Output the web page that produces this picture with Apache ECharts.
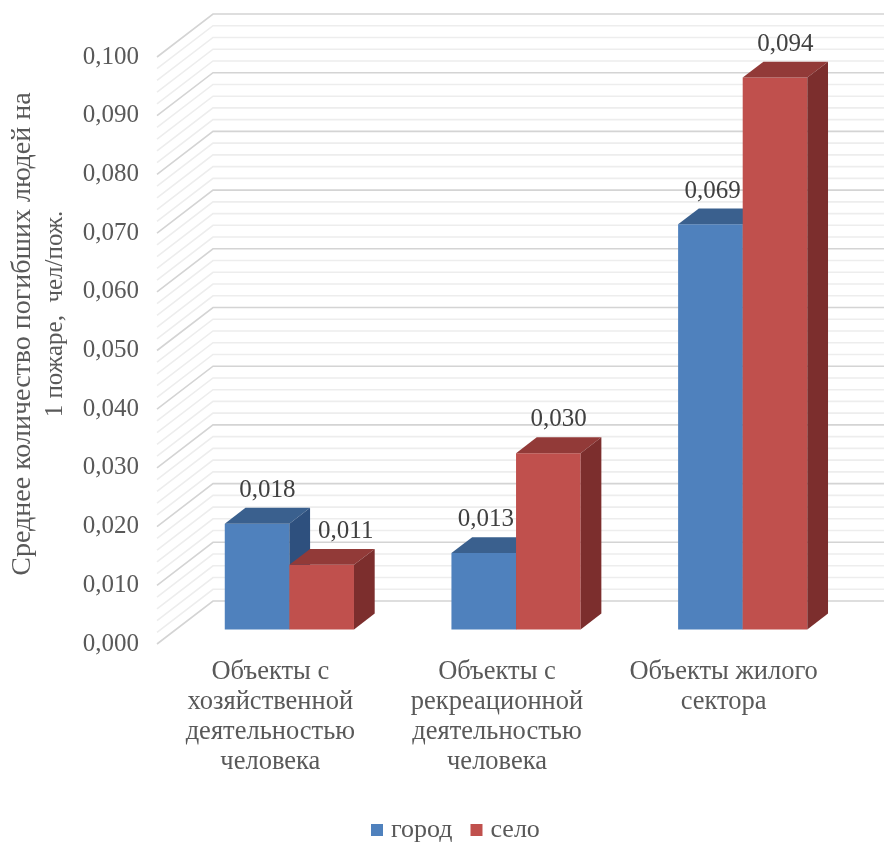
<!DOCTYPE html>
<html>
<head>
<meta charset="utf-8">
<script src="https://cdn.jsdelivr.net/npm/echarts@6/dist/echarts.min.js"></script>
<style>html,body{margin:0;padding:0;background:#fff}#c{width:884px;height:843px}</style>
</head>
<body>
<div id="c"></div>
<script>
const categories = [
  'Объекты с\nхозяйственной\nдеятельностью\nчеловека',
  'Объекты с\nрекреационной\nдеятельностью\nчеловека',
  'Объекты жилого\nсектора'
];
const seriesNames = ['город', 'село'];
const cityValues = [0.018, 0.013, 0.069];
const villageValues = [0.011, 0.030, 0.094];
const yAxisTitle = ['Среднее количество погибших людей на', '1 пожаре,  чел/пож.'];
const yMin = 0, yMax = 0.1, yStep = 0.01, yMinorStep = 0.002;

const FONT = '"Liberation Serif", "Times New Roman", serif';
const DX = 56, DY = 43;       // full depth offset of the floor
const D0 = 0.34, D1 = 0.71;   // bar front / back depth
const BAR_FRAC = 0.285;
const colors = {
  blue: { front: '#4F81BD', top: '#3A608E', side: '#2E507E' },
  red:  { front: '#C0504D', top: '#923A38', side: '#7C2E2D' }
};
const fmt = v => v.toFixed(3).replace('.', ',');
const P = (x, y, d) => [x + d * DX, y - d * DY];

function wallRender(params, api) {
  const cs = params.coordSys;
  const children = [];
  const n = Math.round((yMax - yMin) / yMinorStep);
  for (let i = 0; i <= n; i++) {
    const v = yMin + i * yMinorStep;
    const y = api.coord([0, v])[1];
    const major = i % Math.round(yStep / yMinorStep) === 0;
    const col = major ? '#D4D4D4' : '#EDEDED';
    const a = P(cs.x, y, 0), b = P(cs.x, y, 1), c = P(cs.x + cs.width + 60, y, 1);
    children.push({
      type: 'polyline',
      shape: { points: [a, b, c] },
      style: { stroke: col, lineWidth: 1.6, fill: null },
      z2: major ? 2 : 1
    });
  }
  return { type: 'group', children };
}

function makeBarRender(which) {
  const own = which === 0 ? cityValues : villageValues;
  const other = which === 0 ? villageValues : cityValues;
  const col = which === 0 ? colors.blue : colors.red;
  return function (params, api) {
    const idx = api.value(0), val = api.value(1);
    const top = api.coord([idx, val]);
    const base = api.coord([idx, 0]);
    const band = api.size([1, 0])[0];
    const bw = band * BAR_FRAC;
    const cx = top[0];
    const xL = which === 0 ? cx - bw : cx;
    const xR = which === 0 ? cx : cx + bw;
    const yT = top[1], yB = base[1];
    const front = [P(xL, yT, D0), P(xR, yT, D0), P(xR, yB, D0), P(xL, yB, D0)];
    const topF = [P(xL, yT, D0), P(xR, yT, D0), P(xR, yT, D1), P(xL, yT, D1)];
    const side = [P(xR, yT, D0), P(xR, yT, D1), P(xR, yB, D1), P(xR, yB, D0)];
    const backTopY = P(0, yT, D1)[1];
    let lx = (xL + xR) / 2 + (D0 + D1) / 2 * DX, align = 'center';
    const oVal = other[idx];
    if (which === 0 && oVal > val) { lx = P(cx, 0, D0)[0] - 2; align = 'right'; }
    if (which === 1 && oVal > val) {
      const blueSideRight = P(cx, 0, D1)[0];
      lx = blueSideRight + 8; align = 'left';
    }
    return {
      type: 'group',
      children: [
        { type: 'polygon', shape: { points: front }, style: { fill: col.front } },
        { type: 'polygon', shape: { points: topF }, style: { fill: col.top } },
        { type: 'polygon', shape: { points: side }, style: { fill: col.side } },
        { type: 'text', x: lx, y: backTopY - 5,
          style: { text: fmt(own[idx]), fill: '#404040', font: '25px ' + FONT,
                   align: align, verticalAlign: 'bottom' } }
      ]
    };
  };
}

const chart = echarts.init(document.getElementById('c'), null, { renderer: 'canvas' });
chart.setOption({
  animation: false,
  backgroundColor: '#fff',
  grid: { left: 157, right: 47, top: 57, bottom: 199 },
  xAxis: {
    type: 'category', data: categories,
    axisLine: { show: false }, axisTick: { show: false },
    axisLabel: { interval: 0, fontSize: 26.5, lineHeight: 30, color: '#595959', fontFamily: FONT, margin: 13 }
  },
  yAxis: {
    type: 'value', min: yMin, max: yMax, interval: yStep,
    axisLine: { show: false }, axisTick: { show: false }, splitLine: { show: false },
    axisLabel: { formatter: fmt, fontSize: 25, color: '#595959', fontFamily: FONT, margin: 18 }
  },
  legend: {
    data: seriesNames, left: 366, top: 812, icon: 'rect', itemWidth: 12, itemHeight: 12, itemGap: 18,
    textStyle: { fontSize: 26, color: '#595959', fontFamily: FONT, padding: [0, 0, 0, 3] }
  },
  graphic: [
    { type: 'text', x: 23, y: 334, rotation: Math.PI / 2,
      style: { text: yAxisTitle[0], font: '28px ' + FONT, fill: '#595959', align: 'center', verticalAlign: 'middle' } },
    { type: 'text', x: 55, y: 314, rotation: Math.PI / 2,
      style: { text: yAxisTitle[1], font: '25px ' + FONT, fill: '#595959', align: 'center', verticalAlign: 'middle' } }
  ],
  series: [
    { type: 'custom', name: 'walls', renderItem: wallRender, data: [[0, 0]], z: 1, silent: true },
    { type: 'custom', name: seriesNames[0], itemStyle: { color: colors.blue.front },
      renderItem: makeBarRender(0), data: cityValues.map((v, i) => [i, v]), z: 3 },
    { type: 'custom', name: seriesNames[1], itemStyle: { color: colors.red.front },
      renderItem: makeBarRender(1), data: villageValues.map((v, i) => [i, v]), z: 4 }
  ]
});
</script>
</body>
</html>
